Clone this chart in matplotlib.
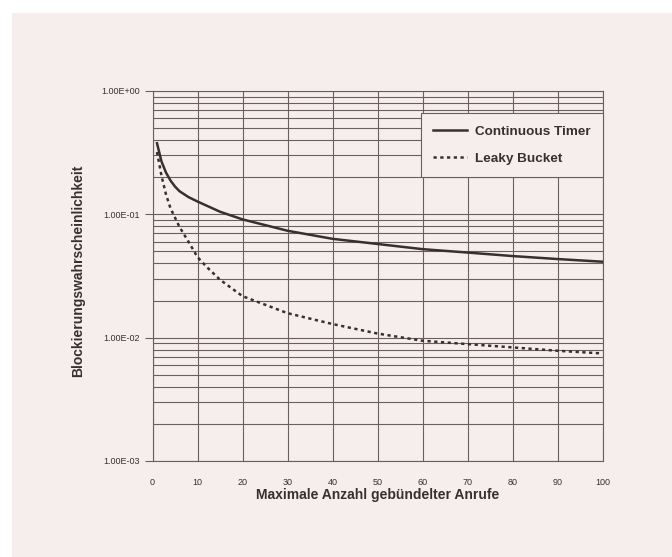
import numpy as np
import matplotlib
matplotlib.use('Agg')
import matplotlib.pyplot as plt
from matplotlib.ticker import LogLocator
from matplotlib.patches import Rectangle

# values
x_ct = [1, 2, 3, 4, 5, 6, 8, 10, 15, 20, 30, 40, 50, 60, 70, 80, 90, 100]
y_ct = [0.377, 0.268, 0.218, 0.188, 0.168, 0.154, 0.138, 0.127, 0.105, 0.091,
        0.0736, 0.0633, 0.0575, 0.0522, 0.049, 0.0459, 0.0434, 0.0413]

x_lb = [1, 2, 3, 4, 6, 8, 10, 12, 15, 20, 30, 40, 50, 60, 70, 80, 90, 100]
y_lb = [0.32, 0.205, 0.145, 0.112, 0.079, 0.060, 0.045, 0.0376, 0.0295, 0.0217,
        0.0158, 0.0129, 0.0108, 0.00944, 0.00887, 0.00834, 0.00783, 0.00745]

y_ticks = [1e-3, 1e-2, 1e-1, 1e0]
y_ticklabels = ['1.00E-03', '1.00E-02', '1.00E-01', '1.00E+00']
x_ticks = list(range(0, 101, 10))

bg = '#f6eded'
ink = '#3a2f30'
grid_c = '#6e5d5e'

plt.rcParams['font.family'] = ['Liberation Sans', 'DejaVu Sans']

fig = plt.figure(figsize=(6.72, 5.57), dpi=100, facecolor=bg)
fig.add_artist(Rectangle((0, 1 - 13 / 557), 1, 13 / 557, transform=fig.transFigure,
                         facecolor='white', edgecolor='none'))
fig.add_artist(Rectangle((0, 0), 12 / 672, 1, transform=fig.transFigure,
                         facecolor='white', edgecolor='none'))

ax = fig.add_axes([152.5 / 672, 1 - 461 / 557, 450 / 672, 370 / 557])
ax.set_facecolor(bg)
ax.set_yscale('log')
ax.set_xlim(0, 100)
ax.set_ylim(1e-3, 1)

ax.plot(x_ct, y_ct, color=ink, lw=1.8, label='Continuous Timer')
ax.plot(x_lb, y_lb, color=ink, lw=1.8, ls=(0, (1.3, 1.4)), label='Leaky Bucket')

ax.set_yticks(y_ticks)
ax.set_yticklabels(y_ticklabels)
ax.yaxis.set_minor_locator(LogLocator(base=10, subs=np.arange(2, 10)))
ax.yaxis.set_minor_formatter(plt.NullFormatter())
ax.set_xticks(x_ticks)

ax.grid(True, which='both', axis='y', color=grid_c, lw=0.8)
ax.grid(True, which='major', axis='x', color=grid_c, lw=0.8)
ax.tick_params(axis='y', which='major', length=6, width=0.8, color=grid_c,
               labelsize=6.5, labelcolor=ink, pad=3)
ax.tick_params(axis='y', which='minor', length=0)
ax.tick_params(axis='x', which='major', length=0, labelsize=6.5, labelcolor=ink, pad=12)
for s in ax.spines.values():
    s.set_color(grid_c)
    s.set_linewidth(0.8)
ax.set_axisbelow(True)

ax.set_xlabel('Maximale Anzahl gebündelter Anrufe', fontsize=10, fontweight='bold',
              color=ink, labelpad=1)
ax.set_ylabel('Blockierungswahrscheinlichkeit', fontsize=10, fontweight='bold',
              color=ink)
ax.yaxis.set_label_coords(-0.15, 0.515)

leg = ax.legend(loc='upper right', bbox_to_anchor=(1.0, 0.94),
                prop={'weight': 'bold', 'size': 9.7}, frameon=True, fancybox=False,
                handlelength=2.5, handletextpad=0.6, borderpad=0.9, labelspacing=1.1,
                borderaxespad=0)
leg.get_frame().set_facecolor(bg)
leg.get_frame().set_edgecolor(grid_c)
leg.get_frame().set_alpha(1)
leg.get_frame().set_linewidth(0.8)
for t in leg.get_texts():
    t.set_color(ink)

fig.savefig('out.png', dpi=100, facecolor=bg)
